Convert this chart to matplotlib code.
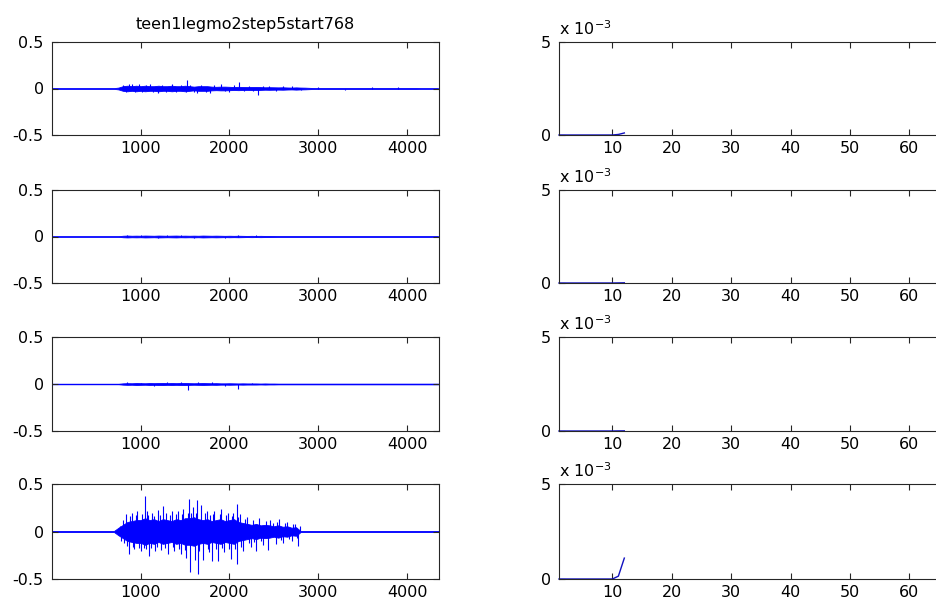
import numpy as np
import matplotlib
matplotlib.use('Agg')
import matplotlib.pyplot as plt

# ---------------- data ----------------
title = 'teen1legmo2step5start768'
n_samples = 4360
bin_step = 50          # envelope bins every 50 samples

# half-amplitude of the dense core of each waveform, per 50-sample bin (88 bins)
core_1 = ([0.004] * 15 +
          [0.01, 0.025, 0.03, 0.025, 0.03, 0.025, 0.03, 0.025, 0.025, 0.03,
           0.025, 0.025, 0.03, 0.025, 0.025, 0.03, 0.025, 0.02, 0.025, 0.025,
           0.025, 0.02, 0.018, 0.02, 0.02, 0.018, 0.016, 0.018, 0.016, 0.015,
           0.016, 0.016, 0.015, 0.013, 0.014, 0.013, 0.012, 0.013, 0.011, 0.01,
           0.012, 0.01, 0.009, 0.007] +
          [0.005] * 24 + [0.003] * 5)
core_2 = ([0.003] * 16 +
          [0.008, 0.01, 0.008, 0.009, 0.008, 0.01, 0.009, 0.008, 0.01, 0.009,
           0.008, 0.009, 0.01, 0.008, 0.009, 0.008, 0.009, 0.008, 0.01, 0.009,
           0.008, 0.009, 0.008, 0.007, 0.008, 0.007, 0.008, 0.007, 0.006, 0.007,
           0.006, 0.007, 0.006, 0.006, 0.005] +
          [0.004] * 37)
core_3 = ([0.003] * 16 +
          [0.007, 0.009, 0.008, 0.01, 0.009, 0.008, 0.01, 0.009, 0.01, 0.011,
           0.009, 0.01, 0.009, 0.01, 0.011, 0.009, 0.008, 0.009, 0.01, 0.009,
           0.008, 0.009, 0.007, 0.007, 0.008, 0.007, 0.006, 0.007, 0.006, 0.006,
           0.006, 0.005, 0.006, 0.005, 0.005] +
          [0.004] * 37)
core_4 = ([0.006] * 15 +
          [0.04, 0.07, 0.10, 0.11, 0.12, 0.12, 0.14, 0.12, 0.13, 0.11,
           0.13, 0.12, 0.11, 0.13, 0.12, 0.14, 0.14, 0.15, 0.13, 0.12,
           0.13, 0.11, 0.12, 0.13, 0.11, 0.12, 0.13, 0.10, 0.09, 0.08,
           0.07, 0.08, 0.065, 0.07, 0.065, 0.055, 0.065, 0.05, 0.055, 0.04,
           0.045] +
          [0.006] * 32)

# individual spikes standing out of the core (sample index, value)
spk_x_1 = [800, 830, 870, 900, 940, 980, 1020, 1060, 1100, 1140, 1200, 1240, 1290,
           1350, 1400, 1450, 1505, 1518, 1560, 1600, 1630, 1680, 1730, 1780, 1830,
           1900, 1950, 2000, 2050, 2110, 2160, 2220, 2270, 2320, 2380, 2450, 2520,
           2600, 2700, 2800, 3000, 3300, 3600, 3900]
spk_y_1 = [0.04, -0.035, 0.045, 0.05, -0.04, 0.045, -0.04, 0.04, 0.05, -0.04, -0.05,
           0.04, -0.04, 0.05, -0.035, 0.04, -0.04, 0.09, 0.04, -0.04, -0.05, 0.04,
           -0.035, -0.05, 0.035, 0.05, -0.03, -0.04, 0.035, 0.07, -0.03, 0.03, -0.03,
           -0.065, 0.025, 0.03, -0.025, 0.025, 0.03, -0.02, 0.012, -0.012, 0.012, 0.012]
spk_x_2 = [850, 1000, 1200, 1300, 1450, 1600, 1950, 2100, 2300]
spk_y_2 = [0.02, 0.015, -0.02, 0.015, 0.018, -0.015, -0.02, 0.015, 0.015]
spk_x_3 = [850, 1000, 1150, 1300, 1450, 1530, 1650, 1800, 1950, 2100, 2250]
spk_y_3 = [0.02, 0.015, -0.02, 0.02, 0.018, -0.06, 0.02, 0.02, -0.02, -0.05, 0.015]
spk_x_4 = [770, 780, 800, 815, 830, 850, 868, 885, 900, 915, 930, 945, 960, 980,
           1000, 1020, 1035, 1048, 1060, 1070, 1085, 1097, 1115, 1130, 1145, 1160,
           1180, 1200, 1215, 1230, 1255, 1270, 1290, 1310, 1330, 1350, 1365, 1380,
           1400, 1423, 1437, 1450, 1465, 1480, 1495, 1510, 1530, 1547, 1555, 1570,
           1590, 1610, 1625, 1637, 1645, 1660, 1680, 1700, 1720, 1743, 1755, 1770,
           1785, 1799, 1815, 1830, 1850, 1874, 1890, 1900, 1920, 1940, 1960, 1980,
           2000, 2013, 2025, 2040, 2060, 2081, 2085, 2100, 2120, 2135, 2150, 2170,
           2200, 2220, 2240, 2260, 2280, 2303, 2330, 2355, 2380, 2410, 2435, 2460,
           2490, 2520, 2540, 2560, 2580, 2600, 2625, 2650, 2675, 2700, 2720, 2740,
           2760, 2775, 2790]
spk_y_4 = [0.06, -0.10, 0.12, -0.12, 0.18, -0.15, -0.24, 0.16, 0.20, -0.16, -0.18,
           0.17, 0.22, -0.17, -0.20, 0.18, -0.17, 0.37, -0.18, 0.22, 0.17, -0.26,
           -0.17, 0.20, 0.16, -0.20, -0.16, 0.23, 0.17, -0.19, 0.27, -0.17, 0.20,
           -0.24, 0.17, 0.22, -0.16, -0.20, 0.18, 0.22, -0.18, -0.24, 0.18, 0.24,
           -0.19, -0.28, 0.20, 0.34, -0.43, 0.19, 0.26, -0.30, 0.20, 0.33, -0.45,
           -0.20, 0.28, -0.30, 0.19, 0.22, -0.18, -0.22, 0.17, -0.31, 0.18, 0.22,
           -0.18, -0.31, 0.18, 0.24, -0.17, -0.22, 0.17, 0.20, -0.18, -0.29, 0.16,
           0.20, -0.18, 0.29, -0.34, 0.15, 0.18, -0.16, -0.20, 0.13, 0.15, -0.12,
           -0.16, 0.12, -0.11, -0.20, 0.14, -0.10, -0.14, 0.11, -0.19, 0.12, 0.09,
           -0.13, 0.10, 0.13, -0.09, -0.12, 0.09, 0.10, -0.08, -0.10, 0.08, 0.08,
           -0.07, -0.15, 0.06]

cores = [core_1, core_2, core_3, core_4]
spikes = [(spk_x_1, spk_y_1), (spk_x_2, spk_y_2), (spk_x_3, spk_y_3), (spk_x_4, spk_y_4)]

# right column
right_x = [1, 2, 3, 4, 5, 6, 7, 8, 9, 10, 11, 12]
right_1 = [0, 0, 0, 0, 0, 0, 0, 0, 0, 0, 0.00003, 0.00011]
right_2 = [0, 0, 0, 0, 0, 0, 0, 0, 0, 0, 0.000005, 0.00001]
right_3 = [0, 0, 0, 0, 0, 0, 0, 0, 0, 0, 0.000005, 0.000008]
right_4 = [0, 0, 0, 0, 0, 0, 0, 0, 0, 0, 0.00015, 0.0011]
rights = [right_1, right_2, right_3, right_4]
right_xmax = 66

left_xticks = [1000, 2000, 3000, 4000]
left_yticks = [-0.5, 0, 0.5]
left_yticklabels = ['-0.5', '0', '0.5']
right_xticks = [10, 20, 30, 40, 50, 60]
right_yticks = [0, 0.005]
right_yticklabels = ['0', '5']

# ---------------- drawing ----------------
W, H = 936, 599
fig = plt.figure(figsize=(W / 100, H / 100), dpi=100)
fig.patch.set_facecolor('white')

rows_px = [(42, 135), (190, 283), (337, 431), (484, 579)]
left_px = (52, 439)
right_px = (559, 945)

FS = 11.5
BLUE = '#0000ff'
AX_COL = '#262626'


def style(ax):
    for s in ax.spines.values():
        s.set_color(AX_COL)
        s.set_linewidth(0.8)
    ax.tick_params(direction='in', top=True, right=True, length=4, width=0.8,
                   colors=AX_COL, labelcolor='black', labelsize=FS)
    ax.tick_params(axis='x', pad=4)
    ax.tick_params(axis='y', pad=6)


bins = np.arange(len(core_1)) * bin_step

for i, (top, bot) in enumerate(rows_px):
    b = 1 - bot / H
    h = (bot - top) / H
    # left panel
    ax = fig.add_axes([left_px[0] / W, b, (left_px[1] - left_px[0]) / W, h])
    c = np.array(cores[i])
    ax.fill_between(bins, -c, c, color=BLUE, lw=0.6)
    sx, sy = spikes[i]
    ax.vlines(sx, 0, sy, color=BLUE, lw=0.8)
    ax.set_xlim(1, n_samples)
    ax.set_ylim(-0.5, 0.5)
    ax.set_xticks(left_xticks)
    ax.set_xticklabels([str(t) for t in left_xticks])
    ax.set_yticks(left_yticks)
    ax.set_yticklabels(left_yticklabels)
    style(ax)
    if i == 0:
        ax.set_title(title, fontsize=FS, pad=9)

    # right panel
    axr = fig.add_axes([right_px[0] / W, b, (right_px[1] - right_px[0]) / W, h])
    axr.plot(right_x, rights[i], color='#1010c0', lw=1.0, clip_on=False)
    axr.set_xlim(1, right_xmax)
    axr.set_ylim(0, 0.005)
    axr.set_xticks(right_xticks)
    axr.set_xticklabels([str(t) for t in right_xticks])
    axr.set_yticks(right_yticks)
    axr.set_yticklabels(right_yticklabels)
    style(axr)
    axr.annotate(r'x 10$^{-3}$', xy=(0, 1), xycoords='axes fraction',
                 xytext=(0, 3), textcoords='offset points',
                 ha='left', va='bottom', fontsize=FS)

fig.savefig('out.png', dpi=100)
